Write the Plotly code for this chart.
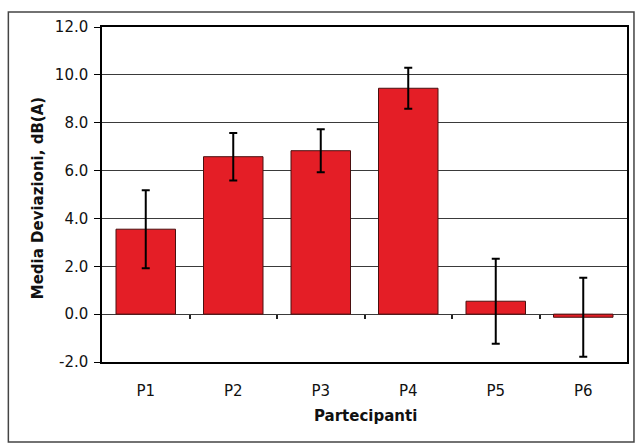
import plotly.graph_objects as go

participants = ["P1", "P2", "P3", "P4", "P5", "P6"]
means = [3.55, 6.58, 6.83, 9.44, 0.54, -0.13]
errors = [1.63, 0.99, 0.9, 0.86, 1.78, 1.65]
y_ticks = [-2, 0, 2, 4, 6, 8, 10, 12]
y_ticktext = ["-2.0", "0.0", "2.0", "4.0", "6.0", "8.0", "10.0", "12.0"]
x_title = "Partecipanti"
y_title = "Media Deviazioni, dB(A)"

xpos = list(range(len(participants)))

L, R, T, B = 102, 8, 27, 82
W, H = 637, 444
pw, ph = W - L - R, H - T - B

fig = go.Figure()
fig.add_trace(go.Bar(
    x=xpos, y=means,
    marker=dict(color="#E41E26", line=dict(color="#4a1010", width=1)),
    error_y=dict(type="data", array=errors, visible=True, color="black",
                 thickness=2, width=4),
    showlegend=False,
))
# invisible trace to carry the secondary axis (ticks on the zero line)
fig.add_trace(go.Scatter(x=xpos, y=means, xaxis="x2", mode="markers",
                         marker=dict(opacity=0), hoverinfo="skip", showlegend=False))

font_tick = dict(family="DejaVu Sans", size=15, color="#111")
fig.update_layout(
    width=W, height=H,
    margin=dict(l=L, r=R, t=T, b=B),
    paper_bgcolor="white", plot_bgcolor="white",
    bargap=0.32,
    xaxis=dict(
        range=[-0.5, 5.5], tickvals=xpos, ticktext=participants,
        ticks="outside", ticklen=14, tickcolor="rgba(0,0,0,0)",
        tickfont=font_tick, showgrid=False, zeroline=False,
        showline=True, linecolor="black", linewidth=1.5, mirror=True,
    ),
    xaxis2=dict(
        overlaying="x", anchor="free", position=2 / 14,
        range=[-0.5, 5.5], tickvals=[0.5, 1.5, 2.5, 3.5, 4.5],
        ticks="outside", ticklen=4, tickwidth=1.5, tickcolor="#222",
        showticklabels=False, showgrid=False, zeroline=False, showline=False,
    ),
    yaxis=dict(
        range=[-2, 12], tickvals=y_ticks, ticktext=y_ticktext,
        ticks="outside", ticklen=6, tickcolor="black", ticklabelstandoff=3,
        tickfont=font_tick, showgrid=True, gridcolor="#3a3a3a", gridwidth=1,
        zeroline=False, showline=True, linecolor="black", linewidth=1.5, mirror=True,
    ),
    annotations=[
        dict(text=x_title, xref="paper", yref="paper",
             x=(367 - L) / pw, y=(H - B - 416) / ph, showarrow=False,
             xanchor="center", yanchor="middle",
             font=dict(family="DejaVu Sans", size=15, color="#111", weight="bold")),
        dict(text=y_title, xref="paper", yref="paper",
             x=(38 - L) / pw, y=(H - B - 198) / ph, showarrow=False, textangle=-90,
             xanchor="center", yanchor="middle",
             font=dict(family="DejaVu Sans", size=15, color="#111", weight="bold")),
    ],
    shapes=[
        dict(type="rect", xref="paper", yref="paper",
             x0=(8 - L) / pw, x1=(636 - L) / pw,
             y0=(H - B - 442) / ph, y1=(H - B - 12) / ph,
             line=dict(color="#444", width=1.5), layer="below"),
    ],
)

fig.write_html("out.html")
